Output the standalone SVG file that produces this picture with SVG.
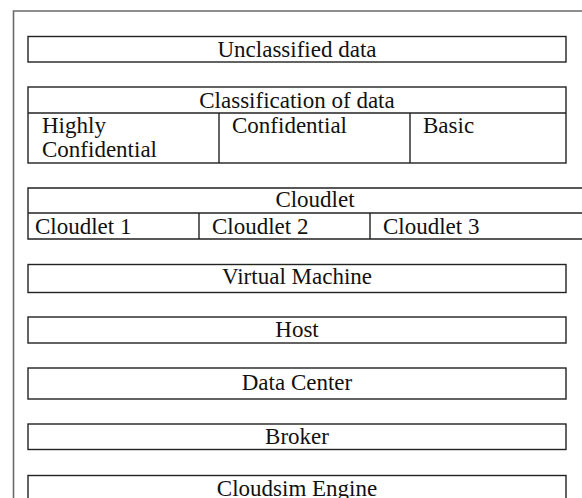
<svg xmlns="http://www.w3.org/2000/svg" width="582" height="498" viewBox="0 0 582 498">
<style>
.b{fill:none;stroke:#222;stroke-width:1.4}
.l{stroke:#222;stroke-width:1.4}
.f{stroke:#6a6a6a;stroke-width:1.6;fill:none}
.c{text-anchor:middle}
</style>
<rect width="582" height="498" fill="#fff"/>
<g id="frame"><path class="f" d="M13.5 498V11H582"/></g>
<g font-family="'Liberation Serif', 'Times New Roman', 'DejaVu Serif', serif" font-size="23" fill="#111">
<g id="unclassified"><rect class="b" x="28" y="36.5" width="538" height="25.5"/><text class="c" x="297" y="57">Unclassified data</text></g>
<g id="classification">
<rect class="b" x="28" y="87" width="538" height="76"/>
<line class="l" x1="28" y1="113" x2="566" y2="113"/>
<line class="l" x1="219" y1="113" x2="219" y2="163"/>
<line class="l" x1="410" y1="113" x2="410" y2="163"/>
<text class="c" x="297" y="108">Classification of data</text>
<text x="42" y="133">Highly</text>
<text x="42" y="157">Confidential</text>
<text x="232" y="133">Confidential</text>
<text x="423" y="133">Basic</text>
</g>
<g id="cloudlet">
<path class="b" d="M582 188H28V239H582"/>
<line class="l" x1="28" y1="213" x2="582" y2="213"/>
<line class="l" x1="199" y1="213" x2="199" y2="239"/>
<line class="l" x1="370" y1="213" x2="370" y2="239"/>
<text class="c" x="315" y="207">Cloudlet</text>
<text x="35" y="234">Cloudlet 1</text>
<text x="212" y="234">Cloudlet 2</text>
<text x="383" y="234">Cloudlet 3</text>
</g>
<g id="vm"><rect class="b" x="28" y="264.5" width="538" height="28"/><text class="c" x="297" y="284">Virtual Machine</text></g>
<g id="host"><rect class="b" x="28" y="317" width="538" height="26"/><text class="c" x="297" y="337">Host</text></g>
<g id="datacenter"><rect class="b" x="28" y="368" width="538" height="31"/><text class="c" x="297" y="390">Data Center</text></g>
<g id="broker"><rect class="b" x="28" y="424" width="538" height="25.5"/><text class="c" x="297" y="444">Broker</text></g>
<g id="engine"><rect class="b" x="28" y="475.5" width="538" height="40"/><text class="c" x="297" y="496">Cloudsim Engine</text></g>
</g>
<g id="connectors"/>
</svg>
